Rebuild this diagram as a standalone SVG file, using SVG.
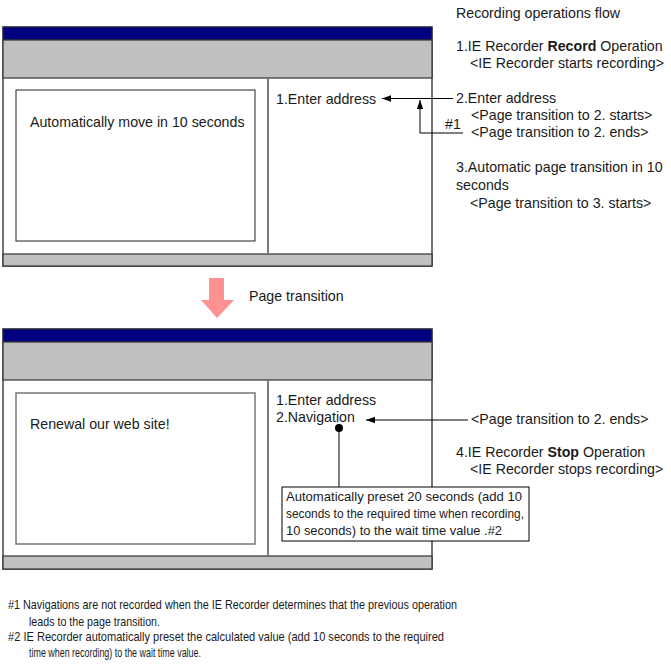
<svg xmlns="http://www.w3.org/2000/svg" width="671" height="665" viewBox="0 0 671 665">
<defs>
<style>
text{font-family:"Liberation Sans",Arial,sans-serif;font-size:14.2px;fill:#1a1a1a}
.fn{font-size:13.5px}
.nb{font-size:13.5px}
.frame{fill:#fff;stroke:#444;stroke-width:1.5}
.blue{fill:#000080;stroke:#333;stroke-width:1}
.gray{fill:#c0c0c0;stroke:#333;stroke-width:1.2}
.div{stroke:#7a7a7a;stroke-width:2;fill:none}
.inner{fill:#fff;stroke:#222;stroke-width:1}
.inner2{fill:#fff;stroke:#777;stroke-width:1.5}
.con{stroke:#000;stroke-width:1;fill:none}
</style>
<marker id="ah" viewBox="0 0 10 10" refX="10" refY="5" markerWidth="13" markerHeight="9" markerUnits="userSpaceOnUse" orient="auto">
<path d="M0,1.5 L10,5 L0,8.5 Z" fill="#000"/>
</marker>
</defs>

<g id="window-top">
<rect class="frame" x="3" y="27" width="429" height="239"/>
<rect class="blue" x="3" y="27" width="429" height="13"/>
<rect class="gray" x="3" y="40" width="429" height="38"/>
<rect class="gray" x="3" y="254" width="429" height="12"/>
<line class="div" x1="268" y1="78" x2="268" y2="254"/>
<rect class="inner" x="16" y="90" width="239" height="151"/>
<text x="30" y="127">Automatically move in 10 seconds</text>
<text x="276" y="104">1.Enter address</text>
</g>

<g id="page-transition">
<polygon points="209,278 224,278 224,300 234,300 217,318 201,300 209,300" fill="#ff9191"/>
<text x="249" y="301">Page transition</text>
</g>

<g id="window-bottom">
<rect class="frame" x="3" y="329" width="429" height="240"/>
<rect class="blue" x="3" y="329" width="429" height="13"/>
<rect class="gray" x="3" y="342" width="429" height="38"/>
<rect class="gray" x="3" y="556" width="429" height="13"/>
<line class="div" x1="268" y1="380" x2="268" y2="556"/>
<rect class="inner2" x="16" y="393" width="239" height="151"/>
<text x="30" y="429">Renewal our web site!</text>
<text x="276" y="405">1.Enter address</text>
<text x="276" y="422">2.Navigation</text>
</g>

<g id="flow-steps">
<text x="456" y="18">Recording operations flow</text>
<text x="456" y="51">1.IE Recorder <tspan font-weight="bold">Record</tspan> Operation</text>
<text x="470" y="68">&lt;IE Recorder starts recording&gt;</text>
<text x="456" y="103">2.Enter address</text>
<text x="471" y="120">&lt;Page transition to 2. starts&gt;</text>
<text x="445" y="129">#1</text>
<text x="471" y="137">&lt;Page transition to 2. ends&gt;</text>
<text x="456" y="172">3.Automatic page transition in 10</text>
<text x="456" y="190">seconds</text>
<text x="470" y="208">&lt;Page transition to 3. starts&gt;</text>
<text x="471" y="424">&lt;Page transition to 2. ends&gt;</text>
<text x="456" y="457">4.IE Recorder <tspan font-weight="bold">Stop</tspan> Operation</text>
<text x="470" y="474">&lt;IE Recorder stops recording&gt;</text>
</g>

<g id="note-box">
<rect x="282" y="487" width="247" height="54" fill="#fff" stroke="#000" stroke-width="1"/>
<text class="nb" x="286" y="501" textLength="236" lengthAdjust="spacingAndGlyphs">Automatically preset 20 seconds (add 10</text>
<text class="nb" x="286" y="518" textLength="238" lengthAdjust="spacingAndGlyphs">seconds to the required time when recording,</text>
<text class="nb" x="286" y="535" textLength="216" lengthAdjust="spacingAndGlyphs">10 seconds) to the wait time value .#2</text>
</g>

<g id="connectors">
<line class="con" x1="453" y1="98.5" x2="382" y2="98.5" marker-end="url(#ah)"/>
<polyline class="con" points="463,133 420,133 420,100" marker-end="url(#ah)"/>
<line class="con" x1="468" y1="420" x2="366" y2="420" marker-end="url(#ah)"/>
<circle cx="339" cy="428" r="4" fill="#000"/>
<line class="con" x1="339" y1="428" x2="339" y2="487"/>
</g>

<g id="footnotes">
<text class="fn" x="8" y="609" textLength="449" lengthAdjust="spacingAndGlyphs">#1 Navigations are not recorded when the IE Recorder determines that the previous operation</text>
<text class="fn" x="29" y="626" textLength="131" lengthAdjust="spacingAndGlyphs">leads to the page transition.</text>
<text class="fn" x="8" y="641" textLength="436" lengthAdjust="spacingAndGlyphs">#2 IE Recorder automatically preset the calculated value (add 10 seconds to the required</text>
<text class="fn" x="29" y="657" textLength="172" lengthAdjust="spacingAndGlyphs">time when recording) to the wait time value.</text>
</g>
</svg>
